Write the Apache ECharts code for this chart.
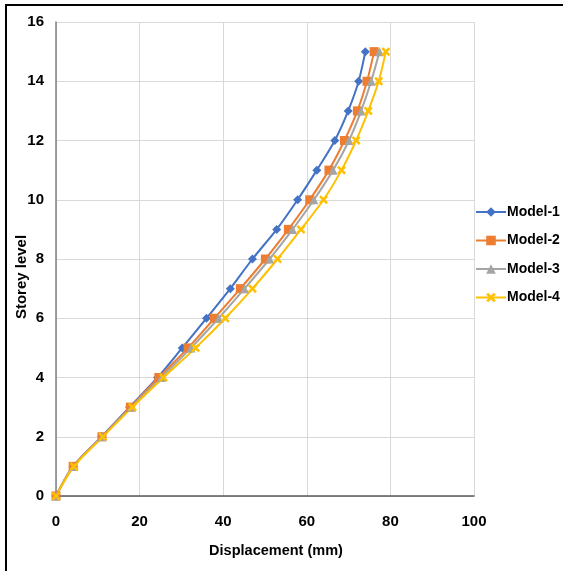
<!DOCTYPE html>
<html>
<head>
<meta charset="utf-8">
<script src="https://cdn.jsdelivr.net/npm/echarts@6/dist/echarts.min.js"></script>
<style>
html,body{margin:0;padding:0;background:#fff;}
#chart{width:563px;height:571px;}
</style>
</head>
<body>
<div id="chart"></div>
<script>
var storeys = [0,1,2,3,4,5,6,7,8,9,10,11,12,13,14,15];
var seriesNames = ['Model-1','Model-2','Model-3','Model-4'];
var model1 = [0, 4.1, 10.9, 17.6, 24.3, 30.2, 36.0, 41.7, 47.0, 52.8, 57.8, 62.4, 66.7, 69.9, 72.4, 74.0];
var model2 = [0, 4.1, 11.0, 17.8, 24.6, 31.6, 37.9, 44.1, 50.1, 55.6, 60.7, 65.3, 69.0, 72.1, 74.4, 76.1];
var model3 = [0, 4.2, 11.1, 18.0, 25.2, 32.3, 38.9, 45.1, 51.1, 56.6, 61.7, 66.3, 70.1, 73.0, 75.4, 77.4];
var model4 = [0, 4.3, 11.2, 18.3, 25.7, 33.4, 40.5, 47.0, 53.0, 58.6, 64.0, 68.3, 71.8, 74.7, 77.2, 78.9];
var xTicks = [0,20,40,60,80,100];
var yTicks = [0,2,4,6,8,10,12,14,16];

var colors = ['#4472C4','#ED7D31','#A5A5A5','#FFC000'];
var symbols = ['diamond','rect','triangle','path://M2,0 L5,3 L8,0 L10,2 L7,5 L10,8 L8,10 L5,7 L2,10 L0,8 L3,5 L0,2 Z'];
var symbolSizes = [9,9,9,9];
var values = [model1, model2, model3, model4];

var font = "'Liberation Sans', Arial, sans-serif";

var chart = echarts.init(document.getElementById('chart'), null, {renderer:'canvas'});
var series = seriesNames.map(function(name, k){
  return {
    name: name,
    type: 'line',
    smooth: 0.3,
    data: values[k].map(function(v,i){ return [v, storeys[i]]; }),
    symbol: symbols[k],
    symbolSize: symbolSizes[k],
    showAllSymbol: true,
    lineStyle: {color: colors[k], width: 2},
    itemStyle: {color: colors[k]},
    emphasis: {disabled: true}
  };
});

chart.setOption({
  animation: false,
  backgroundColor: '#fff',
  color: colors,
  graphic: [{
    type: 'rect',
    shape: {x: 6, y: 5, width: 600, height: 600},
    style: {fill: 'none', stroke: '#000', lineWidth: 2},
    silent: true,
    z: -10
  }],
  grid: {left: 56, right: 89, top: 22, bottom: 75, containLabel: false, outerBoundsMode: 'none'},
  legend: {
    orient: 'vertical',
    left: 470,
    top: 200,
    itemWidth: 30,
    itemHeight: 12,
    itemGap: 14.5,
    data: seriesNames,
    textStyle: {fontFamily: font, fontWeight: 'bold', fontSize: 14, color: '#000', padding: [0,0,0,-4]}
  },
  xAxis: {
    type: 'value',
    min: xTicks[0],
    max: xTicks[xTicks.length-1],
    interval: 20,
    name: 'Displacement (mm)',
    nameLocation: 'middle',
    nameGap: 47,
    nameMoveOverlap: false,
    nameTextStyle: {fontFamily: font, fontWeight: 'bold', fontSize: 14.5, color: '#000', padding: [0,0,0,22]},
    axisLine: {show: true, lineStyle: {color: '#595959', width: 1.5}},
    axisTick: {show: false},
    axisLabel: {fontFamily: font, fontWeight: 'bold', fontSize: 15, color: '#000', margin: 18},
    splitLine: {show: true, lineStyle: {color: '#d9d9d9', width: 1}}
  },
  yAxis: {
    type: 'value',
    min: yTicks[0],
    max: yTicks[yTicks.length-1],
    interval: 2,
    name: 'Storey level',
    nameLocation: 'middle',
    nameGap: 27,
    nameRotate: 90,
    nameMoveOverlap: false,
    nameTextStyle: {fontFamily: font, fontWeight: 'bold', fontSize: 15, color: '#000', padding: [0,36,0,0], align: 'center'},
    axisLine: {show: true, lineStyle: {color: '#808080', width: 1.5}},
    axisTick: {show: false},
    axisLabel: {fontFamily: font, fontWeight: 'bold', fontSize: 15, color: '#000', margin: 12},
    splitLine: {show: true, lineStyle: {color: '#d9d9d9', width: 1}}
  },
  series: series
});
</script>
</body>
</html>
